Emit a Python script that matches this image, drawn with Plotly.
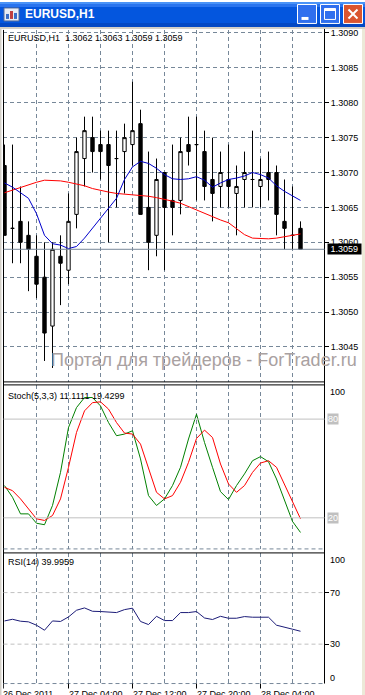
import plotly.graph_objects as go

W, H = 365, 695

# ---------------- data ----------------
bars = list(range(38))
opens = [1.3071, 1.3062, 1.3063, 1.3061, 1.3058, 1.3055, 1.3048, 1.3058, 1.3056, 1.3064,
         1.3072, 1.3075, 1.3074, 1.3074, 1.3072, 1.3073, 1.3074, 1.3077, 1.3065, 1.3061,
         1.3070, 1.3066, 1.3066, 1.3074, 1.3074, 1.3073, 1.3069, 1.3068, 1.3069, 1.3067,
         1.3069, 1.3069, 1.3068, 1.3070, 1.3070, 1.3063, 1.3061, 1.3062]
highs = [1.3074, 1.3074, 1.3068, 1.3063, 1.3061, 1.3060, 1.3060, 1.3061, 1.3067, 1.3075,
         1.3078, 1.3078, 1.3076, 1.3076, 1.3076, 1.3077, 1.3083, 1.3079, 1.3073, 1.3072,
         1.3070, 1.3074, 1.3075, 1.3078, 1.3078, 1.3076, 1.3075, 1.3073, 1.3074, 1.3071,
         1.3073, 1.3076, 1.3072, 1.3073, 1.3071, 1.3069, 1.3068, 1.3063]
lows = [1.3061, 1.3057, 1.3057, 1.3053, 1.3052, 1.3043, 1.3042, 1.3051, 1.3054, 1.3062,
        1.3068, 1.3070, 1.3069, 1.3060, 1.3065, 1.3067, 1.3071, 1.3064, 1.3056, 1.3058,
        1.3056, 1.3061, 1.3064, 1.3071, 1.3066, 1.3066, 1.3063, 1.3065, 1.3065, 1.3061,
        1.3065, 1.3065, 1.3065, 1.3066, 1.3061, 1.3059, 1.3059, 1.3059]
closes = [1.3061, 1.3062, 1.3060, 1.3059, 1.3054, 1.3047, 1.3059, 1.3057, 1.3063, 1.3073,
          1.3076, 1.3073, 1.3073, 1.3071, 1.3072, 1.3075, 1.3076, 1.3064, 1.3060, 1.3069,
          1.3065, 1.3065, 1.3073, 1.3073, 1.3074, 1.3068, 1.3067, 1.3070, 1.3068, 1.3068,
          1.3070, 1.3069, 1.3069, 1.3069, 1.3064, 1.3062, 1.3061, 1.3059]
ma_red = [1.30671, 1.30675, 1.30679, 1.30682, 1.30686, 1.30689, 1.30689, 1.30688, 1.30686, 1.30684,
          1.30681, 1.30677, 1.30674, 1.30672, 1.30670, 1.30669, 1.30669, 1.30668, 1.30666, 1.30664,
          1.30662, 1.30659, 1.30656, 1.30651, 1.30647, 1.30641, 1.30636, 1.30632, 1.30628, 1.30619,
          1.30611, 1.30606, 1.30605, 1.30605, 1.30606, 1.30608, 1.30610, 1.30612]
ma_blue = [1.30685, 1.30679, 1.30671, 1.30663, 1.30641, 1.30610, 1.30598, 1.30596, 1.30591, 1.30594,
           1.30606, 1.30620, 1.30635, 1.30649, 1.30663, 1.30690, 1.30708, 1.30716, 1.30713, 1.30706,
           1.30697, 1.30691, 1.30690, 1.30691, 1.30694, 1.30689, 1.30679, 1.30685, 1.30690, 1.30692,
           1.30695, 1.30700, 1.30697, 1.30692, 1.30681, 1.30673, 1.30667, 1.30660]
stoch_main = [39.6, 32.5, 22.4, 22.4, 16.7, 15.8, 27.5, 47.6, 74.9, 87.0,
              93.1, 93.1, 88.0, 77.9, 69.9, 70.9, 72.9, 55.8, 33.5, 27.5,
              31.5, 39.6, 50.7, 67.9, 83.0, 65.8, 50.7, 35.9, 31.1, 39.6,
              46.7, 54.7, 57.2, 54.1, 43.6, 30.5, 17.8, 11.1]
stoch_signal = [38.5, 36.5, 31.5, 25.5, 19.4, 18.4, 21.4, 31.5, 50.7, 71.9,
                85.0, 90.0, 90.5, 86.1, 77.9, 71.5, 70.9, 64.8, 49.7, 35.5,
                31.5, 33.5, 41.6, 53.7, 68.2, 73.3, 68.8, 52.7, 40.6, 35.5,
                39.6, 47.6, 53.3, 54.7, 50.7, 40.6, 30.5, 19.4]
rsi = [48.0, 49.3, 47.8, 47.3, 44.7, 40.8, 48.0, 47.6, 51.1, 56.3,
       58.1, 55.5, 55.3, 54.8, 54.5, 56.8, 57.9, 47.6, 45.2, 51.6,
       48.3, 48.3, 54.5, 54.5, 55.3, 50.3, 49.1, 51.6, 50.1, 50.1,
       51.4, 50.9, 50.9, 50.9, 44.7, 43.4, 41.6, 40.0]

price_ticks = [1.3045, 1.3050, 1.3055, 1.3060, 1.3065, 1.3070, 1.3075, 1.3080, 1.3085, 1.3090]
grid_bars = [4, 8, 12, 16, 20, 24, 28, 32, 36]
time_label_bars = [0, 8, 16, 24, 32]
time_labels = ["26 Dec 2011", "27 Dec 04:00", "27 Dec 12:00", "27 Dec 20:00", "28 Dec 04:00"]
stoch_levels = [80, 20]
stoch_axis_labels = [100, 0]
rsi_levels = [70, 30]
rsi_axis_labels = [100, 70, 30, 0]
symbol = "EURUSD,H1"
stoch_name, stoch_vals = "Stoch(5,3,3)", (11.1111, 19.4299)
rsi_name, rsi_val = "RSI(14)", 39.9959
watermark = "Портал для трейдеров - ForTrader.ru"

# ---------------- helpers (pixel -> paper) ----------------
def px(x):
    return x / W

def py(y):
    return 1 - y / H

FONT = "Liberation Sans, Arial, sans-serif"
GRID = "#778899"
NBSP = "\u00a0"

x_range = [(3 - 4.5) / 8, (324 - 4.5) / 8]
x_dom = [px(3), px(324)]

fig = go.Figure()

fig.add_trace(go.Candlestick(
    x=bars, open=opens, high=highs, low=lows, close=closes,
    xaxis="x", yaxis="y",
    increasing=dict(line=dict(color="black", width=1), fillcolor="white"),
    decreasing=dict(line=dict(color="black", width=1), fillcolor="black"),
    whiskerwidth=0, hoverinfo="skip",
))
fig.add_trace(go.Scatter(x=bars, y=ma_red, mode="lines", line=dict(color="#FF0000", width=1),
                         xaxis="x", yaxis="y", hoverinfo="skip"))
fig.add_trace(go.Scatter(x=bars, y=ma_blue, mode="lines", line=dict(color="#0000CC", width=1),
                         xaxis="x", yaxis="y", hoverinfo="skip"))
fig.add_trace(go.Scatter(x=bars, y=stoch_main, mode="lines", line=dict(color="#008000", width=1),
                         xaxis="x2", yaxis="y2", hoverinfo="skip"))
fig.add_trace(go.Scatter(x=bars, y=stoch_signal, mode="lines", line=dict(color="#FF0000", width=1),
                         xaxis="x2", yaxis="y2", hoverinfo="skip"))
fig.add_trace(go.Scatter(x=bars, y=rsi, mode="lines", line=dict(color="#1C1C78", width=1),
                         xaxis="x3", yaxis="y3", hoverinfo="skip"))

xcommon = dict(range=x_range, domain=x_dom, tickvals=grid_bars, showticklabels=False,
               ticks="", showgrid=True, gridcolor=GRID, gridwidth=1, griddash="4px,3px",
               zeroline=False, showline=False, fixedrange=True)

main_top, main_bot = 28, 381
st_top, st_bot = 384, 549
rs_top, rs_bot = 552.5, 683.5

layout = dict(
    width=W, height=H, margin=dict(l=0, r=0, t=0, b=0),
    paper_bgcolor="white", plot_bgcolor="white", showlegend=False,
    hovermode=False, boxgap=0.4,
    font=dict(family=FONT, size=9, color="black"),
    xaxis=dict(anchor="y", rangeslider=dict(visible=False), **xcommon),
    xaxis2=dict(anchor="y2", **xcommon),
    xaxis3=dict(anchor="y3", **xcommon),
    yaxis=dict(anchor="x", side="right", domain=[py(main_bot), py(main_top)],
               range=[1.3070 - (main_bot - 171) / 70000, 1.3070 + (171 - main_top) / 70000],
               tickvals=price_ticks, ticktext=[f"{v:.4f}" for v in price_ticks],
               ticks="outside", ticklen=4, tickcolor="black",
               tickfont=dict(family=FONT, size=9, color="black"),
               showgrid=True, gridcolor=GRID, griddash="4px,3px", zeroline=False,
               showline=False, fixedrange=True),
    yaxis2=dict(anchor="x2", side="right", domain=[py(st_bot), py(st_top)],
                range=[0.79, 100.79], tickvals=[], showticklabels=False,
                showgrid=False, zeroline=False, showline=False, fixedrange=True),
    yaxis3=dict(anchor="x3", side="right", domain=[py(rs_bot), py(rs_top)],
                range=[-0.56, 100.79], tickvals=rsi_levels, showticklabels=False,
                ticks="outside", ticklen=4, tickcolor="black",
                showgrid=False, zeroline=False, showline=False, fixedrange=True),
)

shapes = []

def rect(x0, y0, x1, y1, fill, line=None, lw=0):
    shapes.append(dict(type="rect", xref="paper", yref="paper", x0=px(x0), x1=px(x1),
                       y0=py(y0), y1=py(y1), fillcolor=fill,
                       line=dict(color=line or fill, width=lw), layer="above"))

def pline(x0, y0, x1, y1, color="black", width=1, dash=None):
    ln = dict(color=color, width=width)
    if dash:
        ln["dash"] = dash
    shapes.append(dict(type="line", xref="paper", yref="paper", x0=px(x0), x1=px(x1),
                       y0=py(y0), y1=py(y1), line=ln, layer="above"))

# window title bar
rect(0, 0, 365, 25, "#0456DE")
rect(0, 0, 365, 2, "#4A93F7")
rect(0, 2, 365, 5, "#2A74EE")
rect(0, 21, 365, 25, "#0348C4")
rect(0, 25, 365, 27, "#D4D0C8")
# window icon
rect(4, 6, 19, 19, "#E9EEF6", "#5A6F9A", 1)
rect(6, 12, 9, 17, "#3A6FC8")
rect(10, 9, 13, 17, "#C04040")
rect(14, 11, 17, 17, "#3A6FC8")
# buttons
rect(297.5, 2.5, 316.5, 21.5, "#2F6FEE", "white", 1)
rect(301.5, 15, 308.5, 18, "white")
rect(320.5, 2.5, 339.5, 21.5, "#2F6FEE", "white", 1)
rect(324.5, 6.5, 335.5, 17.5, "rgba(0,0,0,0)", "white", 1)
rect(324.5, 6.5, 335.5, 9, "white")
rect(343.5, 2.5, 362.5, 21.5, "#DA5530", "white", 1)
pline(348.5, 7.5, 357.5, 16.5, "white", 2)
pline(357.5, 7.5, 348.5, 16.5, "white", 2)
# window frame edges
rect(0, 27, 1.5, 695, "#D4D0C8")
rect(362, 27, 365, 695, "#ECE9D8")

# panel borders
pline(3.5, main_top, 3.5, rs_bot)
pline(324.5, 27, 324.5, rs_bot)
pline(3.5, main_bot, 324.5, main_bot)
pline(3.5, st_top, 324.5, st_top)
pline(3.5, st_bot - 0.5, 324.5, st_bot - 0.5, GRID, 1, "4px,3px")
pline(3.5, rs_top, 324.5, rs_top)
pline(3.5, rs_bot, 324.5, rs_bot, GRID, 1, "4px,3px")

# bid line
shapes.append(dict(type="line", xref="paper", yref="y", x0=px(3.5), x1=px(324.5),
                   y0=closes[-1], y1=closes[-1], line=dict(color=GRID, width=1)))
# indicator levels
for lv in stoch_levels:
    shapes.append(dict(type="line", xref="paper", yref="y2", x0=px(3.5), x1=px(324.5),
                       y0=lv, y1=lv, line=dict(color="#C0C0C0", width=1)))
for lv in rsi_levels:
    shapes.append(dict(type="line", xref="paper", yref="y3", x0=px(3.5), x1=px(324.5),
                       y0=lv, y1=lv, line=dict(color="#C0C0C0", width=1, dash="4px,3px")))
# time axis tick marks
for b in time_label_bars:
    shapes.append(dict(type="line", xref="x3", yref="paper", x0=b - (0.15 if b == 0 else 0),
                       x1=b - (0.15 if b == 0 else 0), y0=py(rs_bot), y1=py(rs_bot + 5),
                       line=dict(color="black", width=1)))

layout["shapes"] = shapes

ann = []
def text(x, y, s, xanchor="left", yanchor="middle", size=9, color="black", **kw):
    d = dict(xref="paper", yref="paper", x=px(x), y=py(y), text=s, showarrow=False,
             xanchor=xanchor, yanchor=yanchor, font=dict(family=FONT, size=size, color=color))
    d.update(kw)
    ann.append(d)

text(23, 12, f"<b>{symbol}</b>", size=12, color="white")
text(6, 36.5, f"{symbol}{NBSP}{NBSP}{opens[-1]:.4f} {highs[-1]:.4f} {lows[-1]:.4f} {closes[-1]:.4f}")
text(6, 395, f"{stoch_name} {stoch_vals[0]:.4f} {stoch_vals[1]:.4f}")
text(6, 562, f"{rsi_name} {rsi_val:.4f}")
text(49, 359, watermark, size=18, color="#A9A1A1")

# current price box
ann.append(dict(xref="paper", yref="y", x=px(326.5), y=closes[-1], text=f"{NBSP}{closes[-1]:.4f}{NBSP}",
                showarrow=False, xanchor="left", yanchor="middle", bgcolor="black", borderpad=0,
                font=dict(family=FONT, size=9, color="white")))
# stoch level boxes
for lv in stoch_levels:
    ann.append(dict(xref="paper", yref="y2", x=px(326.5), y=lv, text=str(lv), showarrow=False,
                    xanchor="left", yanchor="middle", bgcolor="#C0C0C0", borderpad=0,
                    font=dict(family=FONT, size=9, color="white")))
stoch_shift = {100: -5.5, 0: 7}
for lv in stoch_axis_labels:
    ann.append(dict(xref="paper", yref="y2", x=px(327.5), y=lv, text=str(lv), showarrow=False,
                    xanchor="left", yanchor="middle", yshift=stoch_shift[lv],
                    font=dict(family=FONT, size=9, color="black")))
rsi_shift = {100: -6.5, 70: 0, 30: 0, 0: 5}
for lv in rsi_axis_labels:
    ann.append(dict(xref="paper", yref="y3", x=px(327.5), y=lv, text=str(lv), showarrow=False,
                    xanchor="left", yanchor="middle", yshift=rsi_shift[lv],
                    font=dict(family=FONT, size=9, color="black")))
# time labels
for b, lab in zip(time_label_bars, time_labels):
    ann.append(dict(xref="x3", yref="paper", x=b, y=py(687.5), text=lab, showarrow=False,
                    xanchor="left", yanchor="top", xshift=(-3 if b == 0 else -1), borderpad=0,
                    font=dict(family=FONT, size=9, color="black")))

layout["annotations"] = ann
fig.update_layout(**layout)
fig.write_html("out.html")
